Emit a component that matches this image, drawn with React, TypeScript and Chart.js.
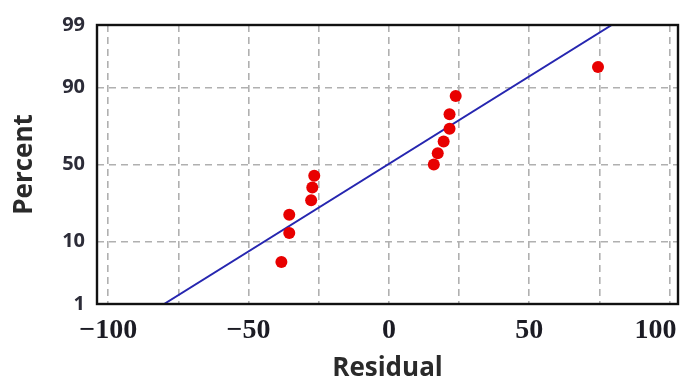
import React, { useEffect, useRef } from "react";
import { Chart, registerables } from "chart.js";

Chart.register(...registerables);

// Residuals (sorted) and their plotting percentages
const RESIDUALS = [-38.3, -35.5, -35.5, -27.7, -27.3, -26.6, 16.0, 17.4, 19.5, 21.6, 21.6, 23.8, 74.5];
const PERCENTS = [5.2, 12.7, 20.1, 27.6, 35.1, 42.5, 50.0, 57.5, 64.9, 72.4, 79.9, 87.3, 94.8];

// Fitted line end points
const LINE_X = [-80.1, 79.4];
const LINE_P = [1, 99];

// Axis ticks
const Y_TICK_PERCENTS = [1, 10, 50, 90, 99];
const X_TICKS = [-100, -75, -50, -25, 0, 25, 50, 75, 100];
const X_LABELED = [-100, -50, 0, 50, 100];

// inverse standard normal CDF (probability scale transform)
function probit(p: number): number {
  const a = [-3.969683028665376e1, 2.209460984245205e2, -2.759285104469687e2, 1.38357751867269e2, -3.066479806614716e1, 2.506628277459239];
  const b = [-5.447609879822406e1, 1.615858368580409e2, -1.556989798598866e2, 6.680131188771972e1, -1.328068155288572e1];
  const c = [-7.784894002430293e-3, -3.223964580411365e-1, -2.400758277161838, -2.549732539343734, 4.374664141464968, 2.938163982698783];
  const d = [7.784695709041462e-3, 3.224671290700398e-1, 2.445134137142996, 3.754408661907416];
  const pl = 0.02425;
  let q: number, r: number;
  if (p < pl) {
    q = Math.sqrt(-2 * Math.log(p));
    return (((((c[0] * q + c[1]) * q + c[2]) * q + c[3]) * q + c[4]) * q + c[5]) / ((((d[0] * q + d[1]) * q + d[2]) * q + d[3]) * q + 1);
  } else if (p <= 1 - pl) {
    q = p - 0.5;
    r = q * q;
    return ((((((a[0] * r + a[1]) * r + a[2]) * r + a[3]) * r + a[4]) * r + a[5]) * q) / (((((b[0] * r + b[1]) * r + b[2]) * r + b[3]) * r + b[4]) * r + 1);
  } else {
    q = Math.sqrt(-2 * Math.log(1 - p));
    return -(((((c[0] * q + c[1]) * q + c[2]) * q + c[3]) * q + c[4]) * q + c[5]) / ((((d[0] * q + d[1]) * q + d[2]) * q + d[3]) * q + 1);
  }
}

const Z_MIN = probit(0.01);
const Z_MAX = probit(0.99);

const framePlugin = {
  id: "frame",
  afterDraw(chart: any) {
    const { ctx, chartArea } = chart;
    ctx.save();
    ctx.strokeStyle = "#111111";
    ctx.lineWidth = 2.4;
    ctx.strokeRect(chartArea.left, chartArea.top, chartArea.right - chartArea.left, chartArea.bottom - chartArea.top);
    ctx.restore();
  },
};

export default function App() {
  const ref = useRef<HTMLCanvasElement | null>(null);

  useEffect(() => {
    if (!ref.current) return;
    const points = RESIDUALS.map((x, i) => ({ x, y: probit(PERCENTS[i] / 100) }));
    const line = LINE_X.map((x, i) => ({ x, y: probit(LINE_P[i] / 100) }));
    const chart = new Chart(ref.current, {
      type: "scatter",
      data: {
        datasets: [
          {
            label: "Residuals",
            data: points,
            backgroundColor: "#e80000",
            borderColor: "#e80000",
            pointRadius: 6,
            pointBorderWidth: 0,
            showLine: false,
          },
          {
            label: "Fit",
            data: line,
            showLine: true,
            borderColor: "#2626b0",
            borderWidth: 2,
            pointRadius: 0,
            fill: false,
          },
        ],
      },
      options: {
        animation: false,
        responsive: true,
        maintainAspectRatio: false,
        layout: { padding: { top: 25, right: 4, left: 0, bottom: 0 } },
        plugins: { legend: { display: false }, tooltip: { enabled: false } },
        scales: {
          x: {
            type: "linear",
            min: -104,
            max: 103,
            afterBuildTicks: (scale: any) => {
              scale.ticks = X_TICKS.map((v) => ({ value: v }));
            },
            afterFit: (scale: any) => {
              scale.height = 81;
              scale.paddingLeft = 0;
              scale.paddingRight = 0;
            },
            ticks: {
              padding: 10,
              maxRotation: 0,
              autoSkip: false,
              color: "#1c1c24",
              font: { family: "'Liberation Serif', serif", size: 28, weight: "bold" },
              callback: (v: any) => {
                const n = Number(v);
                if (!X_LABELED.includes(n)) return "";
                if (n === 100) return "100\u2007\u2007";
                return n < 0 ? "\u2212" + Math.abs(n) : String(n);
              },
            },
            grid: { color: "#b0b0b0", lineWidth: 1.6, drawTicks: false },
            border: { display: false, dash: [7, 5] },
            title: {
              display: true,
              text: "Residual",
              color: "#2a2a2a",
              font: { family: "'Open Sans', sans-serif", size: 26, weight: "bold" },
              padding: { top: 0, bottom: 1 },
            },
          },
          y: {
            type: "linear",
            min: Z_MIN,
            max: Z_MAX,
            afterBuildTicks: (scale: any) => {
              scale.ticks = Y_TICK_PERCENTS.map((p) => ({ value: probit(p / 100) }));
            },
            afterFit: (scale: any) => {
              scale.width = 97;
            },
            ticks: {
              padding: 12,
              autoSkip: false,
              color: "#2c2c38",
              font: { family: "'Open Sans', sans-serif", size: 20, weight: "bold" },
              callback: (v: any) => {
                const n = Number(v);
                let best = Y_TICK_PERCENTS[0];
                for (const p of Y_TICK_PERCENTS) {
                  if (Math.abs(probit(p / 100) - n) < Math.abs(probit(best / 100) - n)) best = p;
                }
                return String(best);
              },
            },
            grid: { color: "#b0b0b0", lineWidth: 1.6, drawTicks: false },
            border: { display: false, dash: [7, 5] },
            title: {
              display: true,
              text: "Percent",
              color: "#2a2a2a",
              font: { family: "'Open Sans', sans-serif", size: 26, weight: "bold" },
              padding: { top: 9, bottom: 0 },
            },
          },
        },
      },
      plugins: [framePlugin],
    });
    return () => chart.destroy();
  }, []);

  return (
    <div style={{ position: "absolute", left: 0, top: 0, width: 684, height: 385, background: "#ffffff" }}>
      <canvas ref={ref} />
    </div>
  );
}
